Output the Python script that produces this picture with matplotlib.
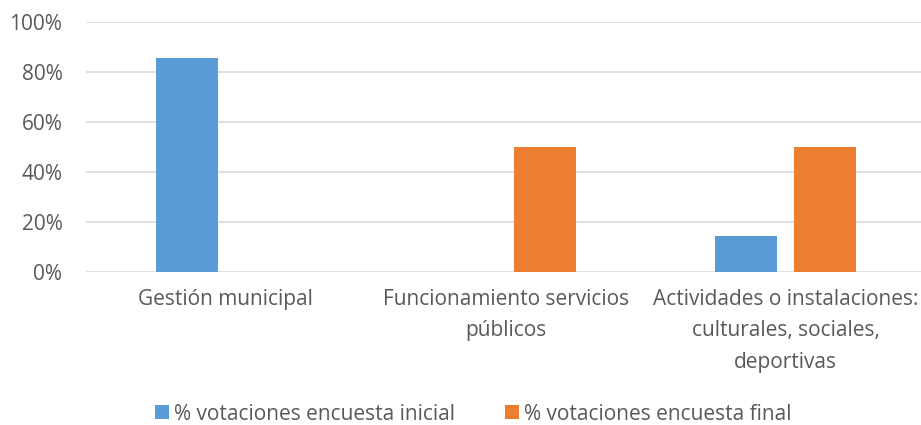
import numpy as np
import matplotlib.pyplot as plt

# Datos
categorias = ['Gestión municipal',
              'Funcionamiento servicios\npúblicos',
              'Actividades o instalaciones:\nculturales, sociales,\ndeportivas']
inicial = [85.7, 0, 14.3]
final = [0, 50, 50]
series = ['% votaciones encuesta inicial', '% votaciones encuesta final']
colores = ['#5b9bd5', '#ed7d31']

plt.rcParams['font.family'] = ['Open Sans', 'DejaVu Sans']
fs = 15

fig = plt.figure(figsize=(9.21, 4.25), dpi=100)
ax = fig.add_axes([86 / 921, 1 - 272 / 425, (925.5 - 86) / 921, 250 / 425])

x = np.arange(len(categorias))
ancho = 0.221
sep = 0.06
desp = (ancho + sep) / 2
ax.bar(x - desp, inicial, ancho, color=colores[0], label=series[0], zorder=3)
ax.bar(x + desp, final, ancho, color=colores[1], label=series[1], zorder=3)

ax.set_xlim(-0.5, 2.5)
ax.set_ylim(0, 100)
ax.set_yticks(np.arange(0, 101, 20))
ax.set_yticklabels([f'{v}%' for v in range(0, 101, 20)])
ax.yaxis.grid(True, color='#d9d9d9', linewidth=1.2, zorder=0)
for s in ax.spines.values():
    s.set_visible(False)
ax.tick_params(axis='y', length=0, pad=17, labelsize=fs, labelcolor='#595959')
ax.set_xticks(x)
ax.set_xticklabels(categorias, linespacing=1.66)
ax.tick_params(axis='x', length=0, pad=12, labelsize=fs, labelcolor='#595959')

fig.legend(loc='center', bbox_to_anchor=(0.514, 1 - 414 / 425), ncol=2, frameon=False,
           fontsize=fs, labelcolor='#595959', handlelength=0.65, handleheight=0.65,
           handletextpad=0.25, columnspacing=2.4)

fig.savefig('out.png', dpi=100)
